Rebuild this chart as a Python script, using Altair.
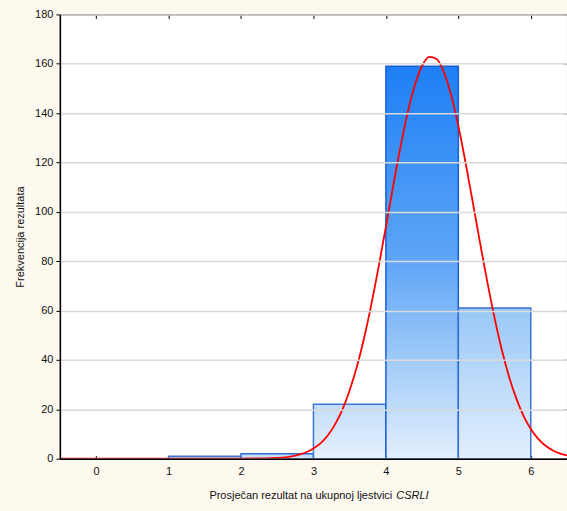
import altair as alt
import pandas as pd

# Histogram classes (lower / upper limits) and observed frequencies
bin_start = [0, 1, 2, 3, 4, 5]
bin_end = [1, 2, 3, 4, 5, 6]
frequency = [0, 1, 2, 22, 159, 61]

# Expected normal curve, sampled along the score axis
curve_x = [-0.5, 0.0, 1.0, 2.0, 2.5, 2.75, 3.0, 3.1, 3.2, 3.3, 3.4, 3.5, 3.6, 3.7,
           3.8, 3.9, 4.0, 4.1, 4.2, 4.3, 4.4, 4.5, 4.6, 4.7, 4.8, 4.9, 5.0, 5.1,
           5.2, 5.3, 5.4, 5.5, 5.6, 5.7, 5.8, 5.9, 6.0, 6.1, 6.2, 6.3, 6.4, 6.5]
curve_y = [0.0, 0.0, 0.0, 0.01, 0.3, 1.2, 4.1, 6.3, 9.5, 14.0, 19.9, 27.7, 37.3, 49.0,
           62.6, 77.8, 93.9, 110.4, 126.1, 140.1, 151.4, 159.2, 162.8, 161.9, 156.6,
           147.3, 134.8, 119.9, 103.8, 87.4, 71.6, 57.0, 44.1, 33.2, 24.4, 17.3, 12.0,
           8.1, 5.3, 3.4, 2.1, 1.3]

x_ticks = [0, 1, 2, 3, 4, 5, 6]
y_ticks = [0, 20, 40, 60, 80, 100, 120, 140, 160, 180]

x_title = "Prosječan rezultat na ukupnoj ljestvici"
x_title_italic = "CSRLI"
y_title = "Frekvencija rezultata"

# Styling per class: gradient stops (top -> bottom) and outline colour
bar_gradients = [
    [("#dce9fa", 0), ("#e6f1fd", 1)],
    [("#a9cbf3", 0), ("#c9e0f8", 1)],
    [("#b8d5f6", 0), ("#d6e8fb", 1)],
    [("#c3ddfa", 0), ("#e6f1fd", 1)],
    [("#1e7ff5", 0), ("#5fa6f7", 0.5), ("#aed2f9", 0.8), ("#e3effd", 1)],
    [("#98c8f8", 0), ("#e3effd", 1)],
]
bar_strokes = ["#3b76d6", "#3b76d6", "#2f6bd6", "#3b76d6", "#1a5fd4", "#3a72d8"]

FONT = "Liberation Sans"
W, H = 508, 445

bars_df = pd.DataFrame({"start": bin_start, "end": bin_end, "freq": frequency, "idx": range(len(bin_start))})
curve_df = pd.DataFrame({"x": curve_x, "y": curve_y})

x_scale = alt.Scale(domain=[-0.5, 6.5], nice=False, zero=False)
y_scale = alt.Scale(domain=[0, 180], nice=False)

left_axis = alt.Axis(
    values=y_ticks, tickSize=4, tickColor="black", domainColor="black", domainWidth=1.5,
    labelFont=FONT, labelFontSize=11, labelColor="#111111", labelPadding=3,
    grid=True, gridColor="#d9d9d9", gridWidth=1.5,
    title=y_title, titleFont=FONT, titleFontSize=11, titleFontWeight="normal",
    titleColor="#111111", titlePadding=9, zindex=1,
)
bottom_axis = alt.Axis(
    values=x_ticks, ticks=False, domain=True, domainColor="black", domainWidth=1.5,
    labelFont=FONT, labelFontSize=11, labelColor="#111111", labelPadding=7,
    grid=False, title="", zindex=1,
)

bar_layers = []
for i, stops in enumerate(bar_gradients):
    grad = alt.LinearGradient(
        gradient="linear", x1=0, y1=0, x2=0, y2=1,
        stops=[alt.GradientStop(color=c, offset=o) for c, o in stops],
    )
    bar_layers.append(
        alt.Chart(bars_df)
        .transform_filter(alt.datum.idx == i)
        .mark_bar(color=grad, stroke=bar_strokes[i], strokeWidth=1.5)
        .encode(
            x=alt.X("start:Q", scale=x_scale, axis=bottom_axis),
            x2="end:Q",
            y=alt.Y("freq:Q", scale=y_scale, axis=left_axis),
            y2=alt.datum(0),
        )
    )
bars = alt.layer(*bar_layers)

curve = alt.Chart(curve_df).mark_line(color="#ff0000", strokeWidth=1.8, interpolate="monotone").encode(
    x=alt.X("x:Q", scale=x_scale, axis=alt.Axis(
        orient="top", values=x_ticks, labels=False, domain=False, grid=False,
        tickSize=4, tickColor="black", offset=-4, title="")),
    y=alt.Y("y:Q", scale=y_scale, axis=alt.Axis(
        orient="right", values=y_ticks, labels=False, domain=False, grid=False,
        tickSize=4, tickColor="black", offset=-4, title="")),
)

# inward tick marks along the bottom edge
bottom_ticks = alt.Chart(bars_df).mark_point(opacity=0).encode(
    x=alt.X("start:Q", scale=x_scale, axis=alt.Axis(
        orient="bottom", values=x_ticks, labels=False, domain=False, grid=False,
        tickSize=3, tickColor="black", offset=-3, title="")),
    y=alt.Y("freq:Q", scale=y_scale, axis=None),
)

title_df = pd.DataFrame({"t": [x_title]})
title_main = alt.Chart(title_df).mark_text(
    font=FONT, fontSize=11, color="#111111", align="right", baseline="middle"
).encode(text="t:N", x=alt.value(333), y=alt.value(H + 37))
title_it_df = pd.DataFrame({"t": [x_title_italic]})
title_it = alt.Chart(title_it_df).mark_text(
    font=FONT, fontSize=11, fontStyle="italic", color="#111111", align="left", baseline="middle"
).encode(text="t:N", x=alt.value(337), y=alt.value(H + 37))

chart = (
    alt.layer(bars, curve, bottom_ticks, title_main, title_it)
    .resolve_axis(x="independent", y="independent")
    .properties(
        width=W, height=H, background="#fdf9ef",
        autosize=alt.AutoSizeParams(type="none"),
        padding={"left": 60, "top": 14, "right": 0, "bottom": 52},
    )
    .configure_view(fill="white", stroke="black", strokeWidth=1)
)

chart.save("out.html", embed_options={"renderer": "svg", "actions": False})
